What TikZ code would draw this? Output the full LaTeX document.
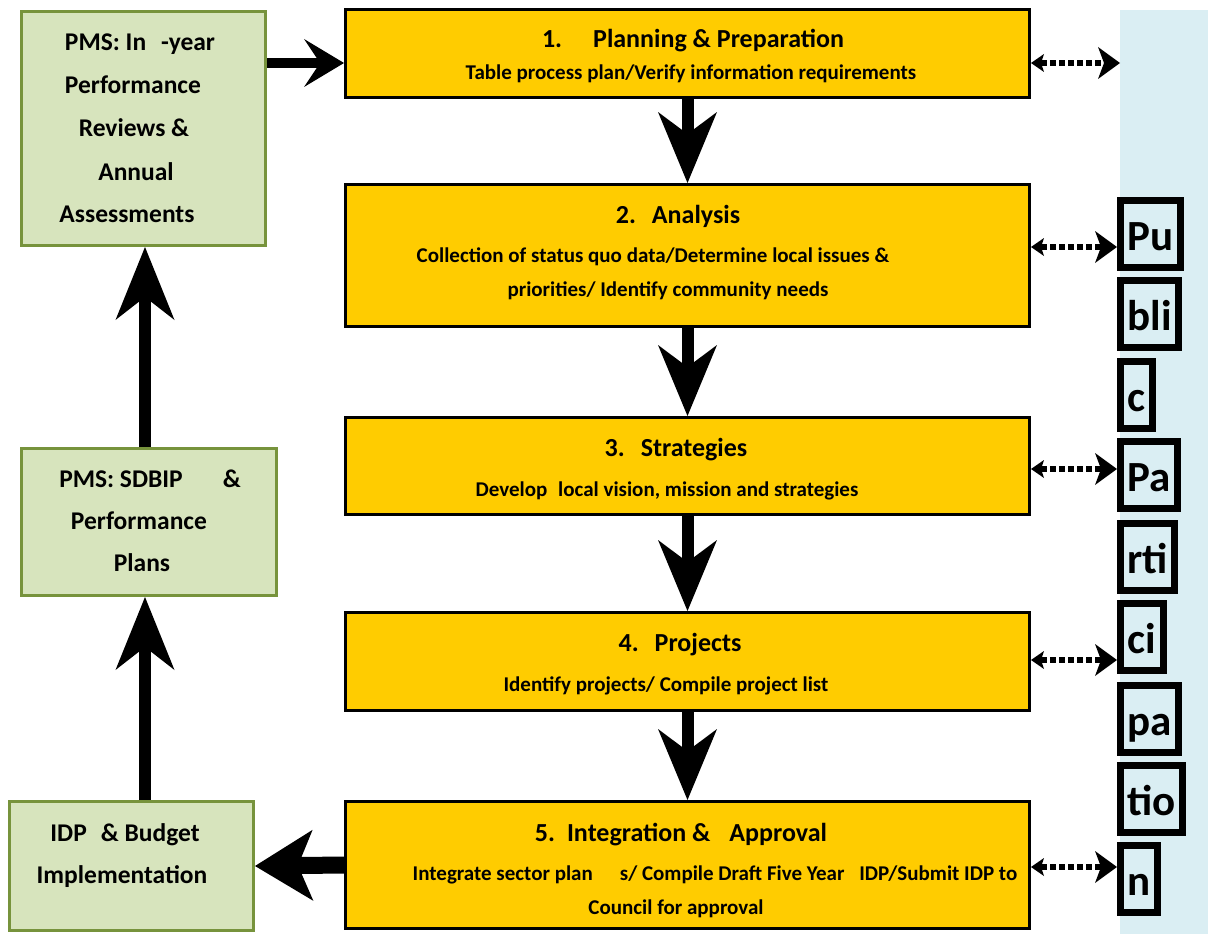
\documentclass[tikz,border=0pt]{standalone}
\usepackage{fontspec}
\setmainfont{Carlito}
\usetikzlibrary{arrows.meta}
\definecolor{yfill}{RGB}{255,204,0}
\definecolor{gfill}{RGB}{215,228,189}
\definecolor{gline}{RGB}{119,147,60}
\definecolor{pblue}{RGB}{218,238,243}
\tikzset{
  yboxst/.style={draw=black, fill=yfill, line width=3pt, anchor=north west, inner sep=0pt},
  gboxst/.style={draw=gline, fill=gfill, line width=3pt, anchor=north west, inner sep=0pt},
  ttl/.style={font=\fontsize{26}{30}\selectfont\bfseries, anchor=base, inner sep=0pt},
  subt/.style={font=\fontsize{21}{25}\selectfont\bfseries, anchor=base, inner sep=0pt},
  gtxt/.style={font=\fontsize{25.5}{30}\selectfont\bfseries, anchor=base, inner sep=0pt},
  letterbox/.style={draw=black, fill=pblue, line width=7pt, anchor=north west,
    font=\fontsize{43}{48}\selectfont\bfseries, text height=36pt, text depth=4pt,
    minimum height=67pt, inner xsep=7pt, inner ysep=1pt},
  darr/.style={line width=12pt, -{Stealth[length=71pt, width=59pt, inset=22pt, line width=0pt]}},
  uarr/.style={line width=12pt, -{Stealth[length=73pt, width=59pt, inset=23pt, line width=0pt]}},
  rarr/.style={line width=10pt, -{Stealth[length=40pt, width=48pt, inset=16pt, line width=0pt]}},
  larr/.style={line width=17pt, -{Stealth[length=58pt, width=71pt, inset=15pt, line width=0pt]}},
  dotarr/.style={line width=5.5pt, dash pattern=on 6pt off 3pt,
    {Stealth[length=13pt, width=18pt, inset=3pt, line width=0pt]}-{Stealth[length=22pt, width=32pt, inset=6pt, line width=0pt]}}
}
\begin{document}
\begin{tikzpicture}[x=1pt, y=-1pt]
\path[use as bounding box] (0,0) rectangle (1208,934);
% participation panel
\fill[pblue] (1120,10) rectangle (1208,934);

% yellow process boxes
\node[yboxst, minimum width=684pt, minimum height=88pt] (b1) at (344,8) {};
\node[yboxst, minimum width=684pt, minimum height=142pt] (b2) at (344,183) {};
\node[yboxst, minimum width=684pt, minimum height=97pt] (b3) at (344,416) {};
\node[yboxst, minimum width=684pt, minimum height=98pt] (b4) at (344,611) {};
\node[yboxst, minimum width=684pt, minimum height=127pt] (b5) at (344,800) {};

\node[ttl] (b1t) at (693,48) {1.\hspace{31pt}Planning \& Preparation};
\node[subt] (b1s) at (691,80) {Table process plan/Verify information requirements};
\node[ttl] (b2t) at (678,223) {2.\hspace{16pt}Analysis};
\node[subt] (b2s) at (653,262) {Collection of status quo data/Determine local issues \&};
\node[subt] (b2u) at (668,296) {priorities/ Identify community needs};
\node[ttl] (b3t) at (676,456) {3.\hspace{16pt}Strategies};
\node[subt] (b3s) at (667,496) {Develop\hspace{6pt} local vision, mission and strategies};
\node[ttl] (b4t) at (680,651) {4.\hspace{16pt}Projects};
\node[subt] (b4s) at (666,691) {Identify projects/ Compile project list};
\node[ttl] (b5t) at (681,841) {5.\hspace{12pt}Integration \&\hspace{19pt}Approval};
\node[subt] (b5s) at (715,880) {Integrate sector plan\hspace{27pt}s/ Compile Draft Five Year\hspace{10pt} IDP/Submit IDP to};
\node[subt] (b5u) at (676,914) {Council for approval};

% green PMS boxes
\node[gboxst, minimum width=244pt, minimum height=234pt] (g1) at (20,10) {};
\node[gboxst, minimum width=255pt, minimum height=147pt] (g2) at (20,447) {};
\node[gboxst, minimum width=244pt, minimum height=129pt] (g3) at (8,800) {};

\node[gtxt] (g1a) at (140,51) {PMS: In\hspace{15pt}-year};
\node[gtxt] (g1b) at (133,93) {Performance};
\node[gtxt] (g1c) at (134,136) {Reviews \&};
\node[gtxt] (g1d) at (136,180) {Annual};
\node[gtxt] (g1e) at (127,222) {Assessments};
\node[gtxt] (g2a) at (150,487) {PMS: SDBIP\hspace{40pt}\&};
\node[gtxt] (g2b) at (139,529) {Performance};
\node[gtxt] (g2c) at (142,571) {Plans};
\node[gtxt] (g3a) at (125,841) {IDP\hspace{14pt}\& Budget};
\node[gtxt] (g3b) at (122,883) {Implementation};

% participation letter boxes
\node[letterbox] (l1) at (1117,197) {Pu};
\node[letterbox] (l2) at (1117,277) {bli};
\node[letterbox] (l3) at (1117,358) {c};
\node[letterbox] (l4) at (1117,438) {Pa};
\node[letterbox] (l5) at (1117,520) {rti};
\node[letterbox] (l6) at (1117,600) {ci};
\node[letterbox] (l7) at (1117,682) {pa};
\node[letterbox] (l8) at (1117,762) {tio};
\node[letterbox] (l9) at (1117,842) {n};

% main flow arrows
\draw[darr] (b1.south) -- (b2.north);
\draw[darr] (b2.south) -- (b3.north);
\draw[darr] (b3.south) -- (b4.north);
\draw[darr] (b4.south) -- (b5.north);

\coordinate (ax) at (145,0);
\draw[uarr] (g3.north -| ax) -- (g2.south -| ax);
\draw[uarr] (g2.north -| ax) -- (g1.south -| ax);
\coordinate (ay) at (0,63);
\draw[rarr] (g1.east |- ay) -- (b1.west |- ay);
\draw[larr] (b5.west) -- (g3.east);

% participation dotted arrows
\coordinate (p1) at (1120,63);
\coordinate (p2) at (1117,247);
\coordinate (p3) at (1117,469);
\coordinate (p4) at (1117,660);
\coordinate (p5) at (1117,867);
\draw[dotarr] (b1.east |- p1) -- (p1);
\draw[dotarr] (b2.east |- p2) -- (p2);
\draw[dotarr] (b3.east |- p3) -- (p3);
\draw[dotarr] (b4.east |- p4) -- (p4);
\draw[dotarr] (b5.east |- p5) -- (p5);
\end{tikzpicture}
\end{document}
